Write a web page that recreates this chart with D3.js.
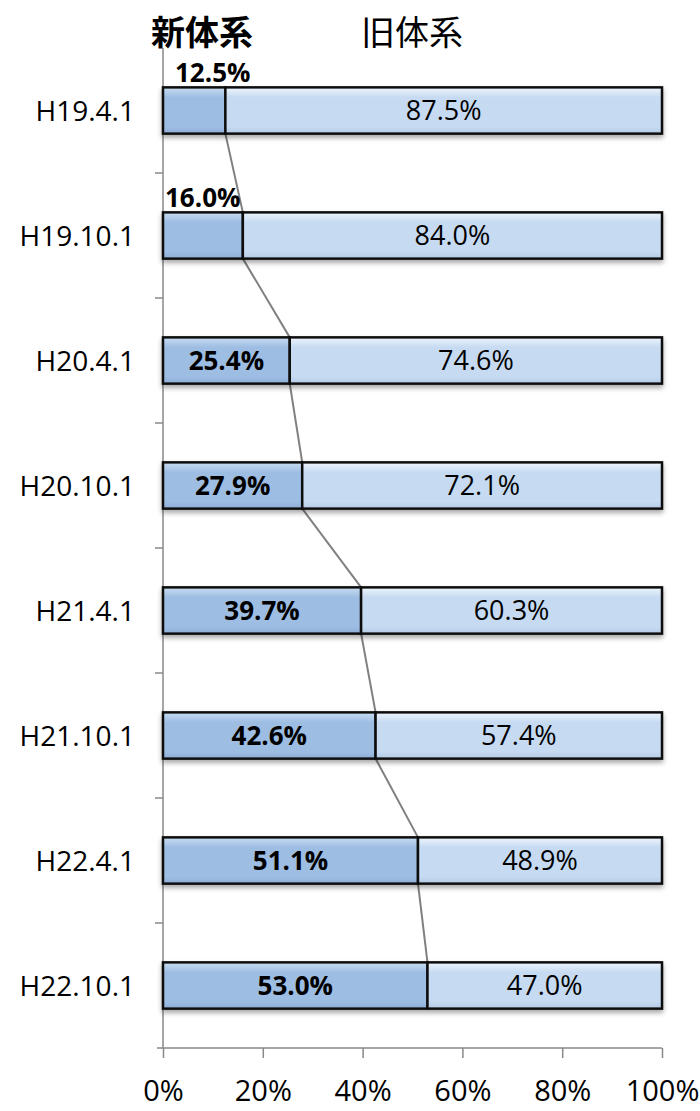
<!DOCTYPE html>
<html>
<head>
<meta charset="utf-8">
<script src="https://cdn.jsdelivr.net/npm/d3@7"></script>
<style>
  body { margin: 0; background: #fff; }
  text { font-family: "Open Sans", "Noto Sans CJK JP", sans-serif; }
</style>
</head>
<body>
<svg id="chart" width="700" height="1111"></svg>
<script>
const dates = ["H19.4.1", "H19.10.1", "H20.4.1", "H20.10.1", "H21.4.1", "H21.10.1", "H22.4.1", "H22.10.1"];
const newShare = [12.5, 16.0, 25.4, 27.9, 39.7, 42.6, 51.1, 53.0];
const oldShare = [87.5, 84.0, 74.6, 72.1, 60.3, 57.4, 48.9, 47.0];
const xTicks = [0, 20, 40, 60, 80, 100];

const svg = d3.select("#chart");
const margin = {top: 48, right: 38, bottom: 63, left: 163};
const width = 700, height = 1111;

const x = d3.scaleLinear().domain([0, 100]).range([margin.left, width - margin.right]);
const y = d3.scaleBand().domain(dates).range([margin.top, height - margin.bottom]).paddingInner(0.63).paddingOuter(0.315);
const band = d3.scaleBand().domain(dates).range([margin.top, height - margin.bottom]);

const defs = svg.append("defs");
function grad(id, top, mid, bot) {
    const g = defs.append("linearGradient").attr("id", id).attr("x1", 0).attr("y1", 0).attr("x2", 0).attr("y2", 1);
    g.append("stop").attr("offset", "0%").attr("stop-color", top);
    g.append("stop").attr("offset", "22%").attr("stop-color", mid);
    g.append("stop").attr("offset", "85%").attr("stop-color", mid);
    g.append("stop").attr("offset", "100%").attr("stop-color", bot);
}
grad("gNew", "#c9dcf2", "#9dbde3", "#8eaed6");
grad("gOld", "#eef5fd", "#c6daf1", "#b5cbe6");
const f = defs.append("filter").attr("id", "shadow").attr("x", "-5%").attr("y", "-20%").attr("width", "110%").attr("height", "160%");
f.append("feDropShadow").attr("dx", 0).attr("dy", 3).attr("stdDeviation", 2.5).attr("flood-color", "#000").attr("flood-opacity", 0.35);

// left axis with band ticks
svg.append("line")
    .attr("x1", x(0)).attr("x2", x(0))
    .attr("y1", margin.top).attr("y2", height - margin.bottom)
    .attr("stroke", "#888").attr("stroke-width", 1.5);
svg.selectAll(".ltick")
    .data(dates.slice(1))
    .join("line")
    .attr("x1", x(0) - 8).attr("x2", x(0))
    .attr("y1", d => band(d)).attr("y2", d => band(d))
    .attr("stroke", "#888").attr("stroke-width", 1.5);

// bottom axis
const xAxis = svg.append("g")
    .attr("transform", `translate(0,${height - margin.bottom})`)
    .call(d3.axisBottom(x).tickValues(xTicks).tickSize(10).tickPadding(22).tickFormat(d => d + "%"));
xAxis.select(".domain").attr("stroke", "#888").attr("stroke-width", 1.5).attr("d", `M${x(0) - 6},0H${x(100)}`);
xAxis.selectAll(".tick line").attr("stroke", "#888").attr("stroke-width", 1.5);
xAxis.selectAll("text").attr("font-size", 29).attr("fill", "#000").attr("font-family", "'Open Sans', sans-serif");

// connector lines
const links = d3.range(dates.length - 1).map(i => ({
    x1: x(newShare[i]), y1: y(dates[i]) + y.bandwidth(),
    x2: x(newShare[i + 1]), y2: y(dates[i + 1])
}));
svg.selectAll(".link")
    .data(links)
    .join("line")
    .attr("x1", d => d.x1).attr("y1", d => d.y1)
    .attr("x2", d => d.x2).attr("y2", d => d.y2)
    .attr("stroke", "#808080").attr("stroke-width", 2);

// bars
const rows = svg.selectAll(".row")
    .data(dates.map((d, i) => ({date: d, nv: newShare[i], ov: oldShare[i]})))
    .join("g")
    .attr("class", "row")
    .attr("filter", "url(#shadow)");

rows.append("rect")
    .attr("x", x(0))
    .attr("y", d => y(d.date))
    .attr("width", d => x(d.nv) - x(0))
    .attr("height", y.bandwidth())
    .attr("fill", "url(#gNew)")
    .attr("stroke", "#111").attr("stroke-width", 2.5);

rows.append("rect")
    .attr("x", d => x(d.nv))
    .attr("y", d => y(d.date))
    .attr("width", d => x(100) - x(d.nv))
    .attr("height", y.bandwidth())
    .attr("fill", "url(#gOld)")
    .attr("stroke", "#111").attr("stroke-width", 2.5);

// value labels (short segments get their label above the bar)
const outside = v => v < 20;
svg.selectAll(".nlab")
    .data(dates.map((d, i) => ({date: d, v: newShare[i], i})))
    .join("text")
    .attr("x", d => outside(d.v) ? (d.i === 0 ? x(0) + 12 : x(0) + 2) : (x(0) + x(d.v)) / 2)
    .attr("y", d => outside(d.v) ? y(d.date) - 5 : y(d.date) + y.bandwidth() / 2)
    .attr("dy", d => outside(d.v) ? 0 : "0.36em")
    .attr("text-anchor", d => outside(d.v) ? "start" : "middle")
    .attr("font-size", 26)
    .attr("font-weight", "bold")
    .text(d => d.v.toFixed(1) + "%");

svg.selectAll(".olab")
    .data(dates.map((d, i) => ({date: d, nv: newShare[i], v: oldShare[i]})))
    .join("text")
    .attr("x", d => (x(d.nv) + x(100)) / 2)
    .attr("y", d => y(d.date) + y.bandwidth() / 2)
    .attr("dy", "0.36em")
    .attr("text-anchor", "middle")
    .attr("font-size", 27)
    .text(d => d.v.toFixed(1) + "%");

// category labels
svg.selectAll(".cat")
    .data(dates)
    .join("text")
    .attr("x", 135)
    .attr("y", d => y(d) + y.bandwidth() / 2)
    .attr("dy", "0.36em")
    .attr("text-anchor", "end")
    .attr("font-size", 28)
    .text(d => d);

// series headers
svg.append("text")
    .attr("x", 202).attr("y", 45)
    .attr("text-anchor", "middle")
    .attr("font-size", 34).attr("font-weight", "bold")
    .attr("font-family", "'Noto Sans CJK JP', sans-serif")
    .text("新体系");
svg.append("text")
    .attr("x", 412).attr("y", 45)
    .attr("text-anchor", "middle")
    .attr("font-size", 34)
    .attr("font-family", "'Noto Sans CJK JP', sans-serif")
    .text("旧体系");
</script>
</body>
</html>
